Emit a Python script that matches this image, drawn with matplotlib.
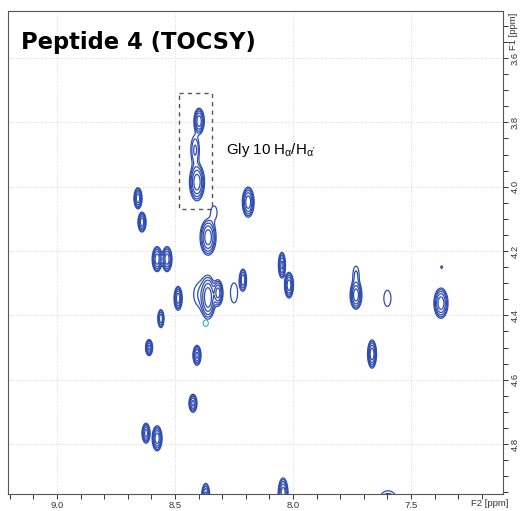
import numpy as np
import matplotlib
matplotlib.use('Agg')
import matplotlib.pyplot as plt
from matplotlib.patches import Rectangle
from matplotlib.ticker import MultipleLocator, FormatStrFormatter

plt.rcParams['font.family'] = ['Liberation Sans', 'DejaVu Sans']
plt.rcParams['mathtext.fontset'] = 'custom'
plt.rcParams['mathtext.rm'] = 'Liberation Sans'
plt.rcParams['mathtext.it'] = 'Liberation Sans'

# peak table: F2 shift, F1 shift, half width (F2), half height (F1), relative intensity
peak_f2 = [8.398, 8.415, 8.407, 8.657, 8.640, 8.576, 8.534, 8.487, 8.560,
           8.360, 8.385, 8.318, 8.250, 8.212, 8.360, 8.335, 8.190, 8.047,
           8.017, 7.733, 7.733, 7.600, 7.373, 7.370, 8.610, 8.407, 8.424,
           8.623, 8.576, 8.370, 8.042, 7.597, 7.665]
peak_f1 = [3.796, 3.886, 3.986, 4.036, 4.110, 4.225, 4.225, 4.347, 4.410,
           4.345, 4.335, 4.330, 4.330, 4.290, 4.157, 4.080, 4.048, 4.244,
           4.306, 4.337, 4.275, 4.347, 4.362, 4.250, 4.500, 4.524, 4.673,
           4.766, 4.782, 4.960, 4.955, 4.985, 4.520]
peak_wx = [0.022, 0.018, 0.032, 0.017, 0.017, 0.021, 0.021, 0.017, 0.013,
           0.030, 0.036, 0.021, 0.015, 0.015, 0.034, 0.013, 0.025, 0.015,
           0.019, 0.025, 0.013, 0.015, 0.030, 0.004, 0.015, 0.017, 0.017,
           0.017, 0.021, 0.017, 0.021, 0.042, 0.019]
peak_wy = [0.040, 0.045, 0.058, 0.033, 0.031, 0.039, 0.039, 0.037, 0.028,
           0.065, 0.040, 0.040, 0.031, 0.034, 0.056, 0.020, 0.047, 0.040,
           0.040, 0.044, 0.028, 0.025, 0.047, 0.004, 0.025, 0.031, 0.028,
           0.031, 0.039, 0.038, 0.050, 0.040, 0.044]
peak_amp = [1.0, 0.25, 1.0, 1.0, 1.0, 1.0, 1.0, 1.0, 0.6,
            1.0, 0.15, 0.9, 0.12, 0.6, 1.0, 0.12, 1.0, 0.8,
            1.0, 1.0, 0.15, 0.12, 1.0, 0.1, 0.8, 0.8, 0.8,
            0.9, 1.0, 0.8, 1.0, 0.3, 1.0]

# negative (cyan) cross peak
neg_f2 = [8.370]
neg_f1 = [4.424]
neg_wx = [0.011]
neg_wy = [0.010]
neg_amp = [0.12]

levels = [0.08, 0.13, 0.22, 0.38, 0.65]

f2 = np.linspace(7.0, 9.3, 900)
f1 = np.linspace(3.4, 5.1, 900)
X, Y = np.meshgrid(f2, f1)


def spectrum(cx, cy, wx, wy, amp):
    Z = np.zeros_like(X)
    for x0, y0, hx, hy, a in zip(cx, cy, wx, wy, amp):
        k = np.sqrt(2 * np.log(a / levels[0]))
        sx = hx / k
        sy = hy / k
        Z += a * np.exp(-((X - x0) ** 2 / (2 * sx ** 2) + (Y - y0) ** 2 / (2 * sy ** 2)))
    return Z


Zpos = spectrum(peak_f2, peak_f1, peak_wx, peak_wy, peak_amp)
Zneg = spectrum(neg_f2, neg_f1, neg_wx, neg_wy, neg_amp)

fig = plt.figure(figsize=(5.23, 5.11), dpi=100)
ax = fig.add_axes([8 / 523, 1 - 494 / 511, 495 / 523, 483 / 511])

ax.contour(X, Y, Zpos, levels=levels, colors='#2f4db0', linewidths=0.9)
ax.contour(X, Y, Zneg, levels=levels[:1], colors='#2ab0b0', linewidths=0.8)

ax.set_xlim(9.208, 7.11)
ax.set_ylim(4.955, 3.454)

ax.xaxis.set_major_locator(MultipleLocator(0.5))
ax.xaxis.set_minor_locator(MultipleLocator(0.1))
ax.yaxis.set_major_locator(MultipleLocator(0.2))
ax.yaxis.set_minor_locator(MultipleLocator(0.05))
ax.yaxis.tick_right()
ax.tick_params(axis='both', which='both', direction='out', colors='#333333',
               labelsize=6.8, length=3.5, width=0.7)
ax.tick_params(axis='y', labelrotation=90, pad=2)
ax.tick_params(axis='x', pad=1.5)
for lab in ax.get_yticklabels():
    lab.set_va('center')
ax.xaxis.set_major_formatter(FormatStrFormatter('%.1f'))
ax.yaxis.set_major_formatter(FormatStrFormatter('%.1f'))

ax.grid(True, which='major', color='#cccccc', linestyle=(0, (1, 2)), linewidth=0.6)
ax.set_axisbelow(True)
for s in ax.spines.values():
    s.set_color('#555555')
    s.set_linewidth(0.8)

fig.text(490 / 523, 1 - 503 / 511, 'F2 [ppm]', fontsize=6.8, color='#333333',
         ha='center', va='center')
fig.text(514 / 523, 1 - 31 / 511, 'F1 [ppm]', fontsize=6.8, color='#333333',
         ha='center', va='center', rotation=90)

ax.add_patch(Rectangle((8.483, 3.709), 8.343 - 8.483, 4.070 - 3.709, fill=False,
                       edgecolor='#555555', linestyle=(0, (3, 3)), linewidth=1.0))

ax.text(0.027, 0.935, 'Peptide 4 (TOCSY)', transform=ax.transAxes, fontsize=16.3,
        fontweight='bold', family='DejaVu Sans', ha='left', va='center')
ax.text(8.285, 3.885, "Gly 10 H$_{\\alpha}$/H$_{\\alpha'}$", fontsize=10.8,
        ha='left', va='center')

fig.savefig('out.png', dpi=100)
